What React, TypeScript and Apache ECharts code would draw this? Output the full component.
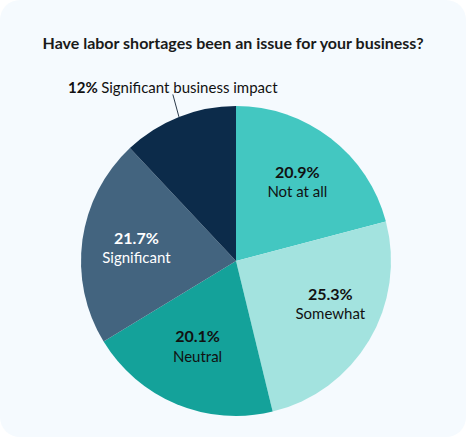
import React, { useEffect, useRef } from "react";
import * as echarts from "echarts";

const titleText = "Have labor shortages been an issue for your business?";
const categories = ["Not at all", "Somewhat", "Neutral", "Significant", "Significant business impact"];
const values = [20.9, 25.3, 20.1, 21.7, 12];
const sliceColors = ["#43C7C1", "#A3E3DF", "#14A29A", "#43647F", "#0C2B4A"];
const labelColors = ["#111111", "#111111", "#111111", "#FFFFFF", "#111111"];
const outsideLabels = [false, false, false, false, true];

const FONT = "Lato, 'Open Sans', sans-serif";

export default function App() {
  const ref = useRef<HTMLDivElement>(null);
  useEffect(() => {
    if (!ref.current) return;
    const chart = echarts.init(ref.current, undefined, { renderer: "svg" });
    const labelOffsets: Record<number, number[]> = { 1: [8, -9], 2: [0, -8] };
    const shapeData = categories.map((c, i) => ({
      name: c,
      value: values[i],
      itemStyle: { color: sliceColors[i] },
    }));
    const labelData = categories.map((c, i) => {
      const outside = outsideLabels[i];
      const col = labelColors[i];
      return {
        name: c,
        value: values[i],
        label: outside
          ? {
              show: true,
              position: "outside",
              overflow: "none",
              formatter: `{p|${values[i]}%} {n|${c}}`,
              rich: {
                p: { fontFamily: FONT, fontWeight: 700, fontSize: 15, color: col },
                n: { fontFamily: FONT, fontWeight: 400, fontSize: 15, color: col },
              },
            }
          : {
              show: true,
              position: "inside",
              offset: labelOffsets[i] || [0, 0],
              formatter: `{p|${values[i]}%}\n{n|${c}}`,
              rich: {
                p: { fontFamily: FONT, fontWeight: 700, fontSize: 16, color: col, lineHeight: 20, align: "center" },
                n: { fontFamily: FONT, fontWeight: 400, fontSize: 15, color: col, lineHeight: 20, align: "center" },
              },
            },
        labelLine: outside
          ? { show: true, length: 22, length2: 0, lineStyle: { color: "#2b3a4a", width: 1 } }
          : { show: false },
      };
    });
    chart.setOption({
      animation: false,
      backgroundColor: "#ffffff",
      graphic: [
        {
          type: "rect",
          z: -10,
          shape: { x: 0, y: 0, width: 466, height: 437, r: 20 },
          style: { fill: "#F5FAFE" },
          silent: true,
        },
      ],
      title: {
        text: titleText,
        left: "center",
        top: 29,
        textStyle: { fontFamily: FONT, fontWeight: 700, fontSize: 16, color: "#1a1a1a" },
      },
      series: [
        {
          type: "pie",
          center: [236, 261],
          radius: [0, 155],
          startAngle: 90,
          clockwise: true,
          silent: true,
          label: { show: false },
          labelLine: { show: false },
          itemStyle: { borderWidth: 0 },
          data: shapeData,
        },
        {
          type: "pie",
          center: [236, 261],
          radius: [40, 155],
          startAngle: 90,
          clockwise: true,
          silent: true,
          itemStyle: { color: "rgba(0,0,0,0)", borderWidth: 0 },
          labelLayout: (params: any) => {
            if (!outsideLabels[params.dataIndex]) return {};
            const pts = params.labelLinePoints;
            if (!pts || pts.length < 2) return {};
            const end = pts[pts.length - 1];
            return { x: end[0] + 2, y: end[1] - 2, align: "center", verticalAlign: "bottom" };
          },
          data: labelData,
        },
      ],
    });
    return () => chart.dispose();
  }, []);
  return (
    <div
      ref={ref}
      style={{ position: "absolute", left: 0, top: 0, width: 466, height: 437 }}
    />
  );
}
